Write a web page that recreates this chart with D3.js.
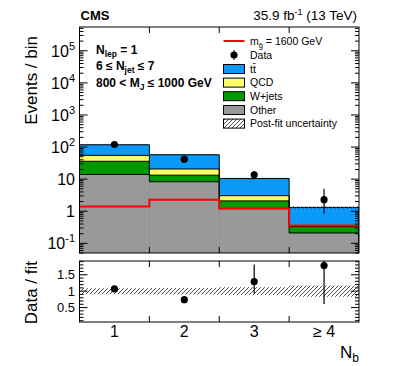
<!DOCTYPE html>
<html>
<head>
<meta charset="utf-8">
<script src="https://cdn.jsdelivr.net/npm/d3@7"></script>
<style>
  body { margin: 0; background: #fff; }
  svg { font-family: "Liberation Sans", Arial, sans-serif; }
</style>
</head>
<body>
<div id="chart"></div>
<script>
// bins and tick labels
const bins = [1, 2, 3, 4];
const binLabels = ["1", "2", "3", "\u2265 4"];

// background components (events / bin), stacked bottom -> top
const other = [14, 8.3, 1.2, 0.21];
const wjets = [22, 5.0, 0.9, 0.12];
const qcd = [19, 7.4, 0.95, 0.005];
const ttbar = [63, 37, 7.4, 0.98];

// signal m_gluino = 1600 GeV
const signal = [1.4, 2.3, 1.22, 0.36];

// data with error bar ends
const data = [120, 42, 13.6, 2.3];
const dataLo = [110, 36, 10.2, 0.84];
const dataHi = [131, 49, 18, 5.0];

// ratio panel
const ratio = [1.07, 0.74, 1.29, 1.78];
const ratioLo = [1.02, 0.66, 0.92, 0.61];
const ratioHi = [1.12, 0.82, 1.81, 2.5];
const relUnc = [0.09, 0.1, 0.12, 0.17];

const yTicksMain = [-1, 0, 1, 2, 3, 4, 5];
const yTicksRatio = [0.5, 1, 1.5];

const W = 399, H = 366;
const left = 79.5, right = 359;
const mainTop = 27, mainBot = 253;
const ratTop = 261, ratBot = 322;

const svg = d3.select("#chart").append("svg")
    .attr("width", W).attr("height", H);

const x = d3.scaleLinear().domain([0.5, 4.5]).range([left, right]);
const y = d3.scaleLog().domain([0.05, 5.5e5]).range([mainBot, mainTop]);
const yr = d3.scaleLinear().domain([0.06, 1.92]).range([ratBot, ratTop]);

const colors = { other: "#999999", wjets: "#009900", qcd: "#ffff66", ttbar: "#0a99f8" };

// hatch patterns
const defs = svg.append("defs");
const hatch = defs.append("pattern")
    .attr("id", "hatch").attr("patternUnits", "userSpaceOnUse")
    .attr("width", 4).attr("height", 4);
hatch.append("path").attr("d", "M-1,5 L5,-1").attr("stroke", "#333").attr("stroke-width", 0.9);

defs.append("clipPath").attr("id", "clipMain")
    .append("rect").attr("x", left).attr("y", mainTop).attr("width", right - left).attr("height", mainBot - mainTop);
defs.append("clipPath").attr("id", "clipRat")
    .append("rect").attr("x", left).attr("y", ratTop).attr("width", right - left).attr("height", ratBot - ratTop);

// cumulative stack
const layers = [
    { key: "other", vals: other },
    { key: "wjets", vals: wjets },
    { key: "qcd", vals: qcd },
    { key: "ttbar", vals: ttbar }
];
let cum = bins.map(() => 0);
layers.forEach(l => {
    l.lo = cum.slice();
    cum = cum.map((c, i) => c + l.vals[i]);
    l.hi = cum.slice();
});
const total = cum;

const main = svg.append("g").attr("clip-path", "url(#clipMain)");

// draw filled boxes, top layer first so lower layers cover
layers.slice().reverse().forEach(l => {
    main.selectAll(null).data(bins).enter().append("rect")
        .attr("x", d => x(d - 0.5))
        .attr("width", x(1.5) - x(0.5))
        .attr("y", (d, i) => y(l.hi[i]))
        .attr("height", (d, i) => mainBot - y(l.hi[i]))
        .attr("fill", colors[l.key]);
});

// outlines of each cumulative layer
function stepPath(vals, scale) {
    let p = `M${x(0.5)},${mainBot}`;
    vals.forEach((v, i) => {
        p += `V${scale(v)}H${x(bins[i] + 0.5)}`;
    });
    return p + `V${mainBot}`;
}
layers.forEach(l => {
    main.append("path").attr("d", stepPath(l.hi, y))
        .attr("fill", "none").attr("stroke", "#000").attr("stroke-width", 1);
});

// post-fit uncertainty band on total
main.selectAll(null).data(bins).enter().append("rect")
    .attr("x", d => x(d - 0.5))
    .attr("width", x(1.5) - x(0.5))
    .attr("y", (d, i) => y(total[i] * (1 + relUnc[i] * 0.5)))
    .attr("height", (d, i) => y(total[i] * (1 - relUnc[i] * 0.5)) - y(total[i] * (1 + relUnc[i] * 0.5)))
    .attr("fill", "url(#hatch)");

// signal line
main.append("path")
    .datum(bins.map((b, i) => [b - 0.5, signal[i]]).concat([[4.5, signal[3]]]))
    .attr("d", d3.line().x(d => x(d[0])).y(d => y(d[1])).curve(d3.curveStepAfter))
    .attr("fill", "none").attr("stroke", "#ff0000").attr("stroke-width", 2);

// data points
main.selectAll(null).data(bins).enter().append("line")
    .attr("x1", d => x(d)).attr("x2", d => x(d))
    .attr("y1", (d, i) => y(dataLo[i])).attr("y2", (d, i) => y(dataHi[i]))
    .attr("stroke", "#000").attr("stroke-width", 1.2);
main.selectAll(null).data(bins).enter().append("circle")
    .attr("cx", d => x(d)).attr("cy", (d, i) => y(data[i]))
    .attr("r", 3.6).attr("fill", "#000");

// main frame and ticks
function frame(top, bot) {
    svg.append("rect").attr("x", left).attr("y", top)
        .attr("width", right - left).attr("height", bot - top)
        .attr("fill", "none").attr("stroke", "#000").attr("stroke-width", 1);
    [1.5, 2.5, 3.5].forEach(e => {
        svg.append("line").attr("x1", x(e)).attr("x2", x(e)).attr("y1", bot).attr("y2", bot - 6)
            .attr("stroke", "#000");
        svg.append("line").attr("x1", x(e)).attr("x2", x(e)).attr("y1", top).attr("y2", top + 6)
            .attr("stroke", "#000");
    });
}
frame(mainTop, mainBot);
frame(ratTop, ratBot);

// log y ticks (major + minor), both sides
const logTicks = [];
for (let e = -2; e <= 5; e++) {
    for (let m = 1; m <= 9; m++) {
        const v = m * Math.pow(10, e);
        if (v >= 0.05 && v <= 5.5e5) logTicks.push({ v, major: m === 1 });
    }
}
logTicks.forEach(t => {
    const len = t.major ? 8 : 4;
    svg.append("line").attr("x1", left).attr("x2", left + len)
        .attr("y1", y(t.v)).attr("y2", y(t.v)).attr("stroke", "#000");
    svg.append("line").attr("x1", right).attr("x2", right - len)
        .attr("y1", y(t.v)).attr("y2", y(t.v)).attr("stroke", "#000");
});
yTicksMain.forEach(e => {
    const t = svg.append("text").attr("x", 75).attr("y", y(Math.pow(10, e)) + 6)
        .attr("text-anchor", "end").attr("font-size", 16);
    if (e === 0) t.text("1");
    else if (e === 1) t.text("10");
    else {
        t.append("tspan").text("10");
        t.append("tspan").attr("dy", -7).attr("font-size", 11).text(e);
    }
});

// ratio y ticks
d3.range(0.1, 1.91, 0.1).forEach(v => {
    const major = Math.abs(v * 2 - Math.round(v * 2)) < 1e-6;
    const len = major ? 8 : 4;
    svg.append("line").attr("x1", left).attr("x2", left + len)
        .attr("y1", yr(v)).attr("y2", yr(v)).attr("stroke", "#000");
    svg.append("line").attr("x1", right).attr("x2", right - len)
        .attr("y1", yr(v)).attr("y2", yr(v)).attr("stroke", "#000");
});
yTicksRatio.forEach(v => {
    svg.append("text").attr("x", 75).attr("y", yr(v) + 4.5)
        .attr("text-anchor", "end").attr("font-size", 13)
        .text(v === 1 ? "1" : v);
});

// ratio panel contents
const rat = svg.append("g").attr("clip-path", "url(#clipRat)");
rat.selectAll(null).data(bins).enter().append("rect")
    .attr("x", d => x(d - 0.5))
    .attr("width", x(1.5) - x(0.5))
    .attr("y", (d, i) => yr(1 + relUnc[i]))
    .attr("height", (d, i) => yr(1 - relUnc[i]) - yr(1 + relUnc[i]))
    .attr("fill", "url(#hatch)");
rat.selectAll(null).data(bins).enter().append("line")
    .attr("x1", d => x(d)).attr("x2", d => x(d))
    .attr("y1", (d, i) => yr(ratioLo[i])).attr("y2", (d, i) => yr(ratioHi[i]))
    .attr("stroke", "#000").attr("stroke-width", 1.2);
rat.selectAll(null).data(bins).enter().append("circle")
    .attr("cx", d => x(d)).attr("cy", (d, i) => yr(ratio[i]))
    .attr("r", 3.6).attr("fill", "#000");

// x labels
svg.selectAll(null).data(bins).enter().append("text")
    .attr("x", d => x(d)).attr("y", 337)
    .attr("text-anchor", "middle").attr("font-size", 16)
    .text((d, i) => binLabels[i]);
const nb = svg.append("text").attr("x", right).attr("y", 358)
    .attr("text-anchor", "end").attr("font-size", 17);
nb.append("tspan").text("N");
nb.append("tspan").attr("dy", 4).attr("font-size", 12).text("b");

// y titles
svg.append("text").attr("transform", `translate(37,${mainTop + 9}) rotate(-90)`)
    .attr("text-anchor", "end").attr("font-size", 17).text("Events / bin");
svg.append("text").attr("transform", `translate(37,${ratTop}) rotate(-90)`)
    .attr("text-anchor", "end").attr("font-size", 17).text("Data / fit");

// header
svg.append("text").attr("x", left + 1).attr("y", 19.5)
    .attr("font-size", 13).attr("font-weight", "bold").text("CMS");
const lumi = svg.append("text").attr("x", 357).attr("y", 19.5)
    .attr("text-anchor", "end").attr("font-size", 13.5);
lumi.append("tspan").text("35.9 fb");
lumi.append("tspan").attr("dy", -5).attr("font-size", 9).text("-1");
lumi.append("tspan").attr("dy", 5).text(" (13 TeV)");

// selection labels
const sel = svg.append("g").attr("font-size", 12).attr("font-weight", "bold");
const s1 = sel.append("text").attr("x", 96).attr("y", 54);
s1.append("tspan").text("N");
s1.append("tspan").attr("dy", 3).attr("font-size", 8.5).text("lep");
s1.append("tspan").attr("dy", -3).text(" = 1");
const s2 = sel.append("text").attr("x", 96).attr("y", 70);
s2.append("tspan").text("6 \u2264 N");
s2.append("tspan").attr("dy", 3).attr("font-size", 8.5).text("jet");
s2.append("tspan").attr("dy", -3).text(" \u2264 7");
const s3 = sel.append("text").attr("x", 96).attr("y", 87);
s3.append("tspan").text("800 < M");
s3.append("tspan").attr("dy", 3).attr("font-size", 8.5).text("J");
s3.append("tspan").attr("dy", -3).text(" \u2264 1000 GeV");

// legend
const lg = svg.append("g").attr("font-size", 10.5);
const lx = 223.5, lw = 21, lh = 9, tx = 250;
const rowY = [41, 55, 69, 82.6, 96.2, 110, 123.6];
lg.append("line").attr("x1", lx).attr("x2", lx + lw).attr("y1", rowY[0]).attr("y2", rowY[0])
    .attr("stroke", "#ff0000").attr("stroke-width", 2);
const lt0 = lg.append("text").attr("x", tx).attr("y", rowY[0] + 3.5);
lt0.append("tspan").text("m");
lt0.append("tspan").attr("dy", 3).attr("font-size", 7.5).text("g\u0303");
lt0.append("tspan").attr("dy", -3).text(" = 1600 GeV");
lg.append("circle").attr("cx", lx + lw / 2).attr("cy", rowY[1]).attr("r", 3.6).attr("fill", "#000");
lg.append("line").attr("x1", lx + lw / 2).attr("x2", lx + lw / 2).attr("y1", rowY[1] - 5).attr("y2", rowY[1] + 5)
    .attr("stroke", "#000");
lg.append("text").attr("x", tx).attr("y", rowY[1] + 3.5).text("Data");
const boxes = [
    { fill: colors.ttbar, label: "t\u0074\u0304" },
    { fill: colors.qcd, label: "QCD" },
    { fill: colors.wjets, label: "W+jets" },
    { fill: colors.other, label: "Other" },
    { fill: "url(#hatch)", label: "Post-fit uncertainty" }
];
boxes.forEach((b, i) => {
    const yy = rowY[i + 2];
    lg.append("rect").attr("x", lx).attr("y", yy - lh / 2).attr("width", lw).attr("height", lh)
        .attr("fill", b.fill).attr("stroke", "#000").attr("stroke-width", 1);
    lg.append("text").attr("x", tx).attr("y", yy + 3.5).text(b.label);
});
</script>
</body>
</html>
